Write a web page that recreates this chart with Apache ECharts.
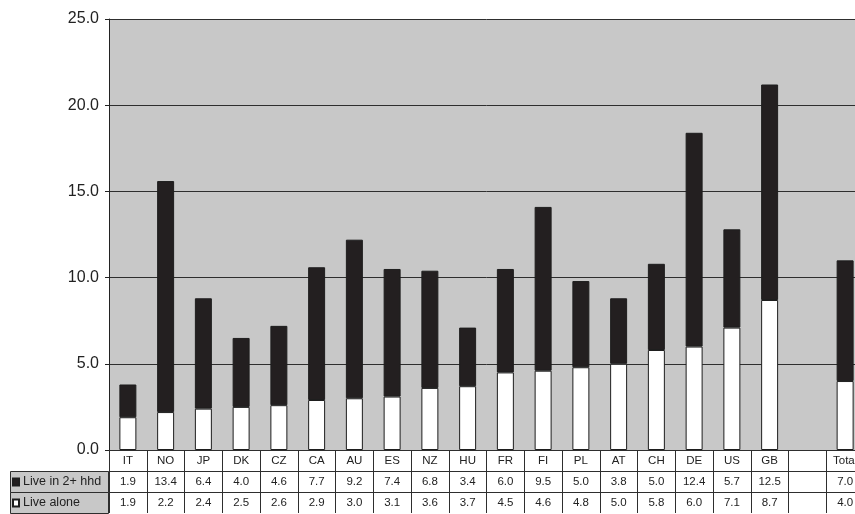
<!DOCTYPE html>
<html>
<head>
<meta charset="utf-8">
<script src="https://cdn.jsdelivr.net/npm/echarts@6/dist/echarts.min.js"></script>
<style>html,body{margin:0;padding:0;background:#fff;overflow:hidden}#c{width:864px;height:514px}</style>
</head>
<body>
<div id="c"></div>
<script>
var categories = ['IT','NO','JP','DK','CZ','CA','AU','ES','NZ','HU','FR','FI','PL','AT','CH','DE','US','GB','','Total'];
var live2 = [1.9,13.4,6.4,4.0,4.6,7.7,9.2,7.4,6.8,3.4,6.0,9.5,5.0,3.8,5.0,12.4,5.7,12.5,null,7.0];
var alone = [1.9,2.2,2.4,2.5,2.6,2.9,3.0,3.1,3.6,3.7,4.5,4.6,4.8,5.0,5.8,6.0,7.1,8.7,null,4.0];
var yTicks = [0,5,10,15,20,25];
var seriesNames = ['Live in 2+ hhd','Live alone'];

var FONT = 'Liberation Sans, Arial, sans-serif';
var LINE = '#2e2e2e';
function fmt(v){ return v == null ? '' : v.toFixed(1); }

function tableAxis(offset, vals){
  return {
    type: 'category', gridIndex: 0, position: 'bottom', offset: offset,
    data: categories,
    axisLine: {show: true, lineStyle: {color: LINE, width: 1}},
    axisTick: {show: true, interval: 0, length: 21, lineStyle: {color: LINE, width: 1}},
    axisLabel: {interval: 0, margin: 5, fontSize: 11.5, fontFamily: FONT, color: '#222',
      formatter: function(v, i){ return vals ? fmt(vals[i]) : v; }},
    splitLine: {show: false}
  };
}

var chart = echarts.init(document.getElementById('c'), null, {renderer: 'canvas'});
chart.setOption({
  animation: false,
  backgroundColor: '#fff',
  grid: {left: 109, top: 19, right: 0, bottom: 64, show: true, backgroundColor: '#c8c8c8', borderWidth: 0},
  graphic: [
    {type: 'rect', z: 0, shape: {x: 10.5, y: 471.5, width: 98, height: 21}, style: {fill: '#c8c8c8', stroke: LINE, lineWidth: 1}},
    {type: 'rect', z: 0, shape: {x: 10.5, y: 492.5, width: 98, height: 21}, style: {fill: '#c8c8c8', stroke: LINE, lineWidth: 1}}
  ],
  legend: {
    data: seriesNames, orient: 'vertical', left: 12, top: 475, padding: 0, icon: 'rect',
    itemWidth: 6, itemHeight: 7, itemGap: 7, selectedMode: false,
    textStyle: {fontSize: 12.5, fontFamily: FONT, color: '#222', lineHeight: 14, padding: [0, 0, 0, -1]}
  },
  xAxis: [
    tableAxis(0, null),
    tableAxis(21, live2),
    tableAxis(42, alone)
  ],
  yAxis: {
    type: 'value', min: yTicks[0], max: yTicks[yTicks.length-1], interval: 5,
    axisLine: {show: true, lineStyle: {color: '#222', width: 1}},
    axisTick: {show: true, length: 4, lineStyle: {color: '#222'}},
    axisLabel: {fontSize: 16, fontFamily: FONT, color: '#222', margin: 10, formatter: function(v){ return v.toFixed(1); }},
    splitLine: {show: true, lineStyle: {color: LINE, width: 1}}
  },
  series: [
    {name: seriesNames[1], type: 'bar', stack: 's', xAxisIndex: 0, barWidth: '45%', data: alone,
      itemStyle: {color: '#ffffff', borderColor: '#1e1e1e', borderWidth: 1}},
    {name: seriesNames[0], type: 'bar', stack: 's', xAxisIndex: 0, barWidth: '45%', data: live2,
      itemStyle: {color: '#231f20', borderColor: '#1e1e1e', borderWidth: 1}}
  ]
});
</script>
</body>
</html>
